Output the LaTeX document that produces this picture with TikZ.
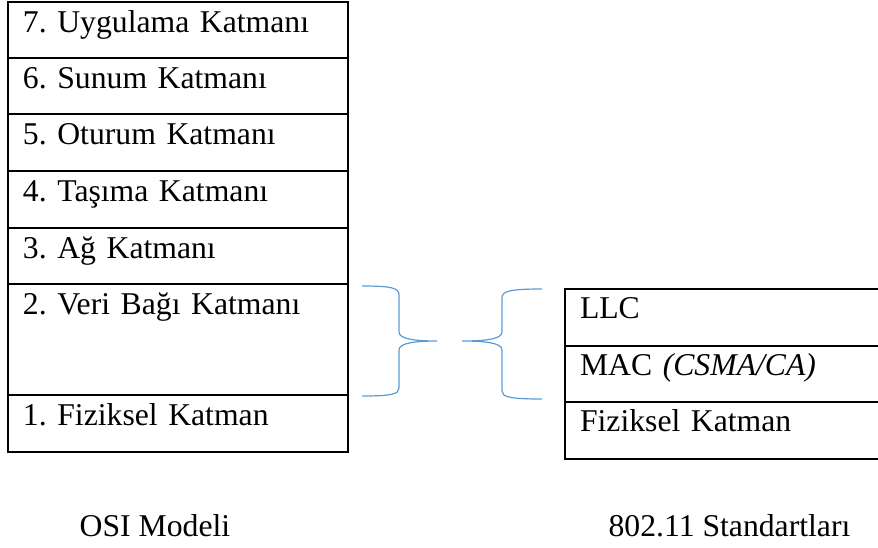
\documentclass[tikz,border=0pt]{standalone}
\usepackage{fontspec}
\setmainfont{Liberation Serif}
\usetikzlibrary{positioning}
\definecolor{cLine}{HTML}{000000}
\definecolor{cBrace}{HTML}{5B9BD5}
\newcommand{\layerfont}{\fontsize{31.7}{38}\selectfont\frenchspacing}

\begin{document}
\begin{tikzpicture}[
  x=1pt, y=-1pt,
  font=\layerfont,
  osirow/.style={
    draw=cLine, line width=2pt, outer sep=0pt, inner xsep=15pt, inner ysep=0pt,
    text width=310pt, align=left, text height=30pt, text depth=#1,
  },
  wlanrow/.style={
    draw=cLine, line width=2pt, outer sep=0pt, inner xsep=15pt, inner ysep=0pt,
    text width=295pt, align=left, text height=29pt, text depth=#1,
  },
  bracepath/.style={draw=cBrace, line width=1.2pt},
  caption/.style={anchor=base, inner sep=0pt},
]

% Page frame (clips the right table at the edge, as in the reference).
\clip (0,0) rectangle (878,547);

% --- OSI stack (left) ---
\node[osirow=26pt, anchor=north west] (app) at (8,2) {7. Uygulama Katmanı};
\node[osirow=26pt, below=0pt of app] (pres) {6. Sunum Katmanı};
\node[osirow=27pt, below=0pt of pres] (sess) {5. Oturum Katmanı};
\node[osirow=27pt, below=0pt of sess] (trans) {4. Taşıma Katmanı};
\node[osirow=26pt, below=0pt of trans] (net) {3. Ağ Katmanı};
\node[osirow=81pt, below=0pt of net] (link) {2. Veri Bağı Katmanı};
\node[osirow=27pt, below=0pt of link] (phys) {1. Fiziksel Katman};

% --- 802.11 stack (right) ---
\node[wlanrow=28pt, anchor=north west] (llc) at (565,289) {LLC};
\node[wlanrow=27pt, below=0pt of llc] (mac) {MAC \textit{(CSMA/CA)}};
\node[wlanrow=28pt, below=0pt of mac] (wphys) {Fiziksel Katman};

% Braces: data link + physical  <->  LLC/MAC/PHY
\coordinate (lbtip) at (437,341);
\coordinate (rbtip) at (462,341);
\draw[bracepath] (362,286) .. controls (392,286) and (399,288) .. (399,295)
  -- (399,332) .. controls (399,339) and (415,341) .. (lbtip)
  .. controls (415,341) and (399,343) .. (399,350)
  -- (399,388) .. controls (399,394) and (392,396) .. (362,396);
\draw[bracepath] (542,289) .. controls (510,289) and (502,291) .. (502,298)
  -- (502,332) .. controls (502,339) and (486,341) .. (rbtip)
  .. controls (486,341) and (502,343) .. (502,350)
  -- (502,391) .. controls (502,397) and (510,399) .. (542,399);

% Captions
\node[caption] (osilbl) at (155,536) {OSI Modeli};
\node[caption] (stdlbl) at (729.5,536) {802.11 Standartları};

\end{tikzpicture}
\end{document}
